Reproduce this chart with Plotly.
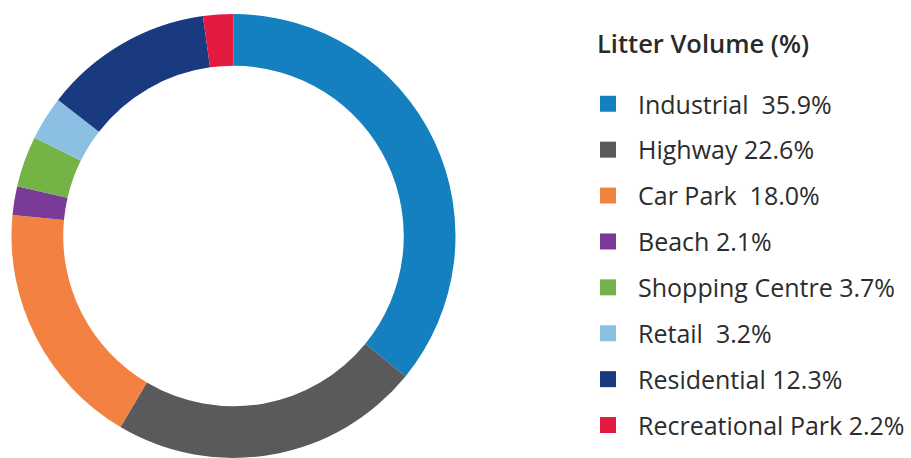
import plotly.graph_objects as go

categories = ["Industrial", "Highway", "Car Park", "Beach", "Shopping Centre",
              "Retail", "Residential", "Recreational Park"]
values = [35.9, 22.6, 18.0, 2.1, 3.7, 3.2, 12.3, 2.2]
legend_labels = ["Industrial\u00a0 35.9%", "Highway 22.6%", "Car Park\u00a0 18.0%",
                 "Beach 2.1%", "Shopping Centre 3.7%", "Retail\u00a0 3.2%",
                 "Residential 12.3%", "Recreational Park 2.2%"]
colors = ["#1480c0", "#5a5a5d", "#f38242", "#7a3a98", "#74b446",
          "#8cc0e2", "#1a3a80", "#e3193f"]
legend_title = "Litter Volume (%)"

W, H = 911, 458

fig = go.Figure()
fig.add_trace(go.Pie(
    labels=categories, values=values, sort=False, direction="clockwise",
    rotation=0, hole=0.767, marker=dict(colors=colors, line=dict(width=0)),
    textinfo="none", hoverinfo="label+percent", showlegend=False,
    domain=dict(x=[11.5 / W, 455.5 / W], y=[0, 1 - 14 / H]),
))

for lab, col in zip(legend_labels, colors):
    fig.add_trace(go.Scatter(
        x=[None], y=[None], mode="markers",
        marker=dict(symbol="square", size=16, color=col),
        name=lab, legendgroup=lab, showlegend=True,
    ))

fig.add_annotation(
    text=legend_title, xref="paper", yref="paper",
    x=595 / W, xanchor="left", y=1 - 43 / H, yanchor="middle", showarrow=False,
    font=dict(family="Open Sans", size=25.5, color="#2a2a2a", weight=600),
)

fig.update_layout(
    width=W, height=H,
    margin=dict(l=0, r=0, t=0, b=0),
    paper_bgcolor="white", plot_bgcolor="white",
    xaxis=dict(visible=False), yaxis=dict(visible=False),
    legend=dict(
        font=dict(family="Open Sans", size=25, color="#2c2c2c"),
        x=578 / W, xanchor="left", y=1 - 81 / H, yanchor="top",
        traceorder="grouped", tracegroupgap=10.4, itemsizing="trace",
        itemwidth=50, bgcolor="rgba(0,0,0,0)",
    ),
)

fig.write_html("out.html", config={"displayModeBar": False},
               post_script="document.body.style.margin='0';")
